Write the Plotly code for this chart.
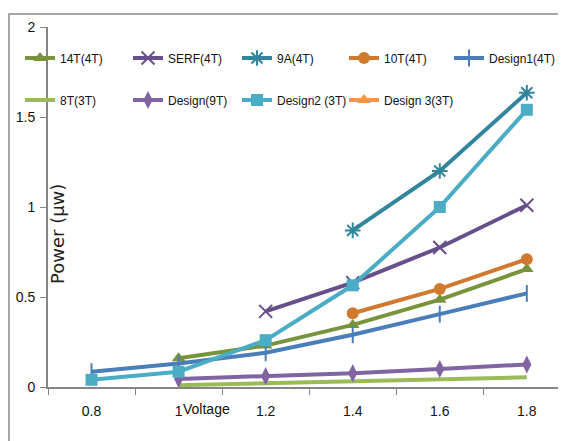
import plotly.graph_objects as go

categories = ["0.8", "1", "1.2", "1.4", "1.6", "1.8"]

s_14t = [None, 0.16, 0.23, 0.345, 0.485, 0.655]
s_serf = [None, None, 0.42, 0.58, 0.775, 1.01]
s_9a = [None, None, None, 0.87, 1.2, 1.635]
s_10t = [None, None, None, 0.41, 0.545, 0.71]
s_design1 = [0.085, 0.13, 0.19, 0.29, 0.405, 0.52]
s_8t = [None, 0.01, 0.02, 0.03, 0.04, 0.054]
s_design9t = [None, 0.045, 0.06, 0.077, 0.1, 0.125]
s_design2 = [0.04, 0.085, 0.26, 0.565, 1.0, 1.54]
s_design3 = [None, None, None, None, None, None]

y_ticks = [0, 0.5, 1, 1.5, 2]
y_ticktext = ["0", "0.5", "1", "1.5", "2"]

FONT = "Liberation Sans, Arial, sans-serif"

series = [
    ("14T(4T)", s_14t, "#77933C", dict(symbol="triangle-up", size=12)),
    ("SERF(4T)", s_serf, "#664F8A", dict(symbol="x-thin-open", size=13, line=dict(width=2, color="#664F8A"))),
    ("9A(4T)", s_9a, "#31859C", dict(symbol="asterisk-open", size=13, line=dict(width=2, color="#31859C"))),
    ("10T(4T)", s_10t, "#D07A30", dict(symbol="circle", size=12)),
    ("Design1(4T)", s_design1, "#4A7EBB", dict(symbol="line-ns-open", size=12, line=dict(width=2, color="#4A7EBB"))),
    ("8T(3T)", s_8t, "#9BBB59", None),
    ("Design(9T)", s_design9t, "#8064A2", dict(symbol="diamond-tall", size=13)),
    ("Design2 (3T)", s_design2, "#4BACC6", dict(symbol="square", size=12)),
    ("Design 3(3T)", s_design3, "#F79646", dict(symbol="triangle-up", size=12)),
]

# legend grid (figure pixels): columns and rows
col_px = [12, 120, 229, 336, 441]
row_px = [50, 92]

fig = go.Figure()
legends = {}
for i, (name, vals, color, marker) in enumerate(series):
    lg = "legend" if i == 0 else f"legend{i + 1}"
    row, col = divmod(i, 5)
    legends[lg] = dict(
        x=col_px[col] / 566, y=1 - row_px[row] / 441,
        xref="container", yref="container",
        orientation="h", xanchor="left", yanchor="middle",
        bgcolor="rgba(0,0,0,0)",
        font=dict(family=FONT, size=12, color="#111"),
        itemwidth=30,
    )
    kw = dict(
        x=categories, y=vals, name=name, legend=lg,
        line=dict(color=color, width=4),
        connectgaps=False,
    )
    if marker is None:
        kw["mode"] = "lines"
    else:
        m = dict(color=color)
        m.update(marker)
        kw["mode"] = "lines+markers"
        kw["marker"] = m
    fig.add_trace(go.Scatter(**kw))

fig.update_layout(
    template="none",
    width=566, height=441,
    margin=dict(l=40, r=8, t=19, b=62, autoexpand=False),
    paper_bgcolor="white",
    plot_bgcolor="white",
    showlegend=True,
    xaxis=dict(
        type="category",
        categoryarray=categories,
        range=[-0.5, 5.45],
        automargin=False,
        showline=True, linecolor="#868686", linewidth=2,
        ticks="outside", ticklen=6, tickcolor="#868686", tickwidth=1,
        tickson="boundaries",
        showgrid=False, zeroline=False,
        tickfont=dict(family=FONT, size=14, color="#111"),
        ticklabelstandoff=10,
    ),
    yaxis=dict(
        range=[0, 2],
        automargin=False,
        tickvals=y_ticks, ticktext=y_ticktext,
        showline=True, linecolor="#868686", linewidth=2,
        ticks="outside", ticklen=6, tickcolor="#868686", tickwidth=1,
        showgrid=False, zeroline=False,
        tickfont=dict(family=FONT, size=14, color="#111"),
        ticklabelstandoff=2,
    ),
    annotations=[
        dict(text="Power (µw)", textangle=-90, xref="paper", yref="paper",
             x=0.0193, y=0.425, xanchor="center", yanchor="middle", showarrow=False,
             font=dict(family="DejaVu Sans, Verdana, sans-serif", size=18, color="#222")),
        dict(text="Voltage", xref="paper", yref="paper",
             x=0.2568, y=-0.061, xanchor="left", yanchor="middle", showarrow=False,
             font=dict(family=FONT, size=14, color="#111")),
    ],
    shapes=[
        dict(type="rect", xref="paper", yref="paper",
             x0=-0.0753, x1=1.2, y0=-0.3, y1=1.036,
             line=dict(color="#8c8c8c", width=1.5), fillcolor="rgba(0,0,0,0)", layer="below"),
    ],
)
fig.update_layout(**legends)

fig.write_html("out.html")
